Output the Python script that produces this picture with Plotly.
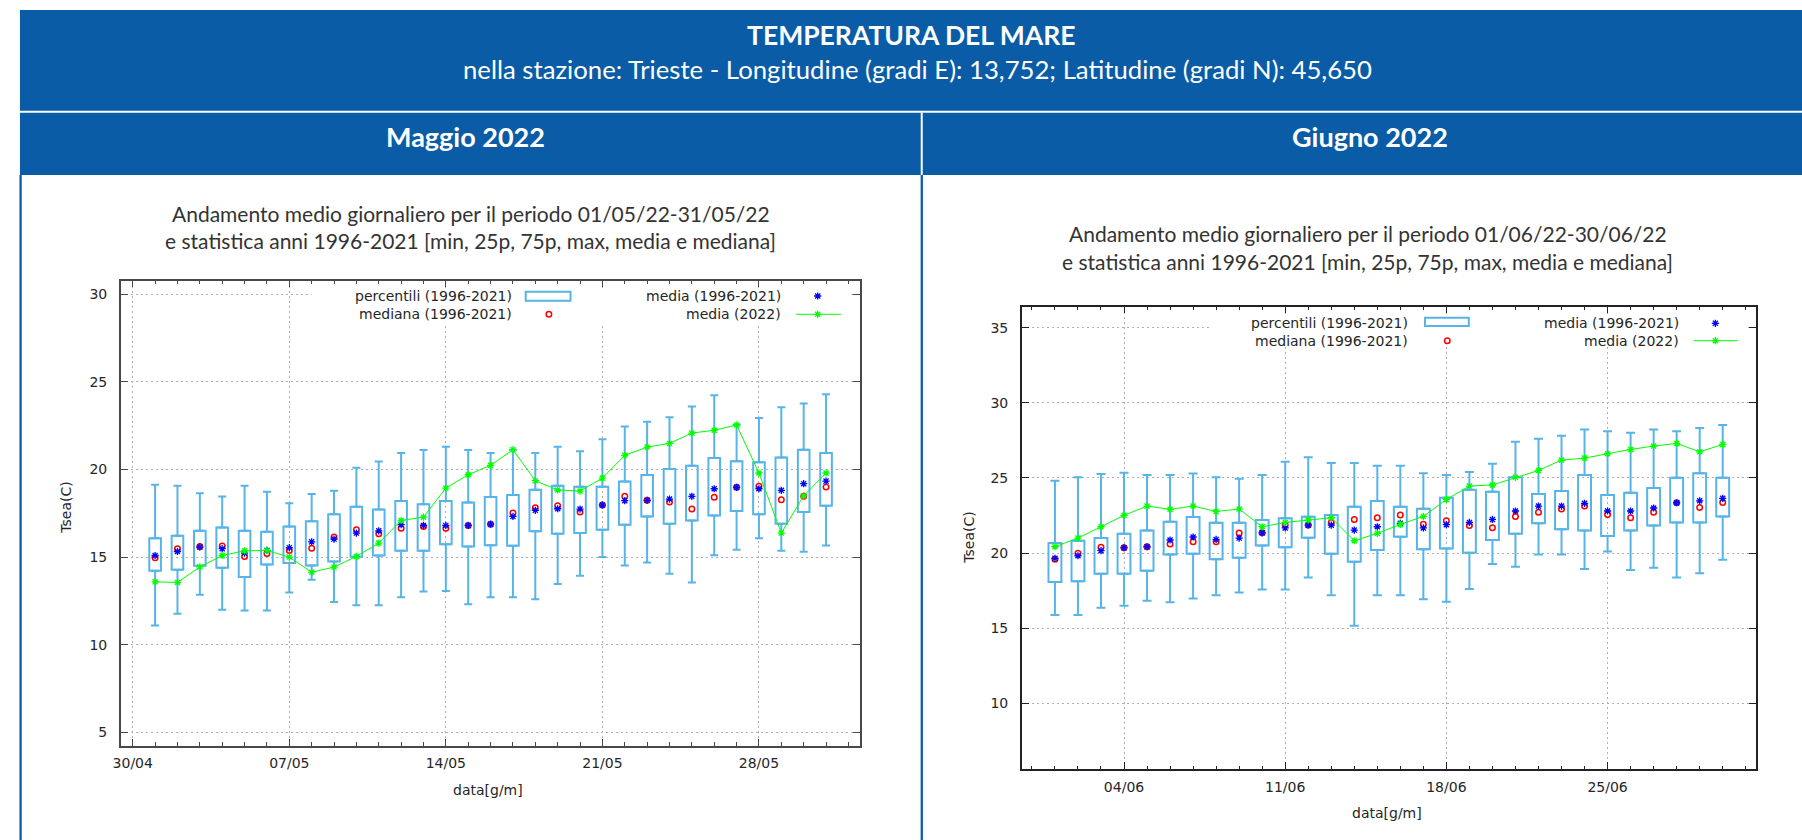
import plotly.graph_objects as go
import pandas as pd

W, H = 1802, 840

# ---------------- DATA ----------------
may_dates = [f"2022-05-{d:02d}" for d in range(1, 32)]
may_min = [11.09, 11.76, 12.85, 11.99, 11.95, 11.95, 12.98, 13.70, 12.43, 12.25, 12.25, 12.71, 13.04, 13.07, 12.31, 12.71,
           12.71, 12.60, 13.46, 13.93, 15.00, 14.52, 14.69, 14.05, 13.55, 15.11, 15.42, 16.08, 15.36, 15.30, 15.66]
may_q1 = [14.22, 14.28, 14.50, 14.39, 13.86, 14.58, 14.66, 14.52, 14.75, 15.02, 15.09, 15.36, 15.36, 15.74, 15.61, 15.68,
          15.65, 16.48, 16.33, 16.37, 16.56, 16.85, 17.32, 16.90, 17.09, 17.38, 17.63, 17.45, 16.90, 17.57, 17.93]
may_q3 = [16.08, 16.22, 16.50, 16.69, 16.50, 16.45, 16.75, 17.04, 17.45, 17.87, 17.72, 18.20, 18.01, 18.20, 18.12, 18.43,
          18.54, 18.85, 19.07, 19.02, 19.02, 19.32, 19.68, 20.03, 20.22, 20.66, 20.47, 20.41, 20.69, 21.13, 20.94]
may_max = [19.13, 19.07, 18.65, 18.46, 19.07, 18.73, 18.07, 18.60, 18.79, 20.10, 20.45, 20.94, 21.11, 21.30, 21.11, 20.94,
           21.13, 20.94, 21.30, 21.04, 21.72, 22.45, 22.73, 22.98, 23.59, 24.24, 22.55, 22.94, 23.55, 23.76, 24.29]
may_mean = [15.09, 15.32, 15.57, 15.48, 15.23, 15.38, 15.54, 15.87, 16.03, 16.37, 16.50, 16.85, 16.81, 16.81, 16.81, 16.88,
            17.32, 17.67, 17.76, 17.74, 17.97, 18.22, 18.24, 18.31, 18.47, 18.90, 18.98, 18.90, 18.81, 19.19, 19.34]
may_median = [14.96, 15.48, 15.60, 15.64, 15.04, 15.21, 15.37, 15.51, 16.14, 16.56, 16.33, 16.65, 16.75, 16.65, 16.81, 16.88,
              17.51, 17.82, 17.93, 17.57, 17.97, 18.47, 18.24, 18.14, 17.74, 18.41, 18.98, 19.04, 18.27, 18.47, 19.00]
may_2022 = [13.59, 13.55, 14.44, 15.09, 15.36, 15.38, 15.00, 14.14, 14.43, 15.04, 15.80, 17.09, 17.28, 18.94, 19.70, 20.24,
            21.13, 19.36, 18.83, 18.77, 19.51, 20.81, 21.28, 21.49, 22.08, 22.24, 22.54, 19.80, 16.37, 18.50, 19.80]

jun_dates = [f"2022-06-{d:02d}" for d in range(1, 31)]
jun_min = [15.88, 15.88, 16.36, 16.49, 16.83, 16.72, 16.98, 17.20, 17.38, 17.58, 17.58, 18.38, 17.20, 15.17, 17.20,
           17.20, 16.92, 16.76, 17.60, 19.27, 19.09, 19.91, 19.91, 18.94, 20.11, 18.87, 19.02, 18.38, 18.65, 19.56]
jun_q1 = [18.07, 18.12, 18.63, 18.63, 18.82, 19.91, 19.96, 19.58, 19.69, 20.51, 20.38, 21.02, 19.96, 19.42, 20.20,
          21.09, 20.25, 20.31, 20.02, 20.87, 21.29, 21.98, 21.58, 21.51, 21.13, 21.51, 21.84, 22.04, 22.04, 22.44]
jun_q3 = [20.67, 20.82, 21.00, 21.29, 21.51, 22.09, 22.40, 22.02, 22.02, 22.20, 22.31, 22.42, 22.53, 23.08, 23.46,
          23.08, 22.95, 23.68, 24.22, 24.08, 25.04, 23.93, 24.13, 25.19, 23.86, 24.02, 24.33, 25.01, 25.32, 25.01]
jun_max = [24.81, 25.04, 25.26, 25.35, 25.19, 25.19, 25.30, 25.04, 24.95, 25.19, 26.08, 26.37, 25.99, 25.99, 25.81,
           25.81, 25.32, 25.19, 25.39, 25.95, 27.41, 27.61, 27.81, 28.23, 28.10, 28.01, 28.23, 28.10, 28.32, 28.52]
jun_mean = [19.65, 19.82, 20.16, 20.36, 20.42, 20.87, 21.07, 20.91, 21.00, 21.35, 21.67, 21.86, 21.86, 21.53, 21.75,
            21.98, 21.67, 21.89, 22.04, 22.24, 22.80, 23.13, 23.13, 23.31, 22.80, 22.80, 23.00, 23.35, 23.48, 23.64]
jun_median = [19.58, 19.98, 20.38, 20.36, 20.42, 20.60, 20.76, 20.76, 21.33, 21.35, 21.86, 21.86, 22.04, 22.24, 22.35,
              22.53, 21.91, 22.15, 21.84, 21.69, 22.44, 22.71, 22.93, 23.13, 22.57, 22.35, 22.71, 23.35, 23.04, 23.37]
jun_2022 = [20.42, 21.00, 21.75, 22.51, 23.13, 22.91, 23.13, 22.77, 22.93, 21.75, 22.04, 22.20, 22.35, 20.82, 21.31,
            21.91, 22.44, 23.57, 24.46, 24.53, 25.04, 25.50, 26.19, 26.32, 26.61, 26.90, 27.12, 27.30, 26.74, 27.23]

legend_labels = ["percentili (1996-2021)", "mediana (1996-2021)", "media (1996-2021)", "media (2022)"]
page_title = "TEMPERATURA DEL MARE"
page_subtitle = "nella stazione: Trieste - Longitudine (gradi E): 13,752; Latitudine (gradi N): 45,650"
panel_titles = ["Maggio 2022", "Giugno 2022"]
chart_title1 = ["Andamento medio giornaliero per il periodo 01/05/22-31/05/22",
                "Andamento medio giornaliero per il periodo 01/06/22-30/06/22"]
chart_title2 = "e statistica anni 1996-2021 [min, 25p, 75p, max, media e mediana]"

# ---------------- STYLE ----------------
HDR = "#0a5ca6"
BOX = "#56b4e9"
GRID = "#b0b0b0"
TXT = "#262626"
CFONT = "DejaVu Sans"
HFONT = "Lato"
CSIZE = 14
DAY = 86400000
STAR = 6
CIRC = 5.5


def X(p):
    return p / W


def Y(p):
    return 1 - p / H


fig = go.Figure()


def add_panel(dates, mn, q1, q3, mx, mean, med, y22, xa, ya, cap, bw):
    n = len(dates)
    common = dict(xaxis=xa, yaxis=ya, showlegend=False, hoverinfo="skip")
    fig.add_trace(go.Bar(x=dates, base=q1, y=[b - a for a, b in zip(q1, q3)], width=bw * DAY,
                         marker=dict(color="rgba(0,0,0,0)", line=dict(color=BOX, width=2)), **common))
    inv = dict(size=1, color="rgba(0,0,0,0)")
    fig.add_trace(go.Scatter(x=dates, y=q3, mode="markers", marker=inv,
                             error_y=dict(type="data", symmetric=False, array=[b - a for a, b in zip(q3, mx)],
                                          arrayminus=[0] * n, color=BOX, thickness=2, width=cap), **common))
    fig.add_trace(go.Scatter(x=dates, y=q1, mode="markers", marker=inv,
                             error_y=dict(type="data", symmetric=False, array=[0] * n,
                                          arrayminus=[a - b for a, b in zip(q1, mn)], color=BOX, thickness=2,
                                          width=cap), **common))
    fig.add_trace(go.Scatter(x=dates, y=med, mode="markers",
                             marker=dict(symbol="circle-open", size=CIRC, color="#ff0000", line=dict(width=1.5)),
                             **common))
    fig.add_trace(go.Scatter(x=dates, y=mean, mode="markers",
                             marker=dict(symbol="asterisk-open", size=STAR, color="#0000ff", line=dict(width=1.3)),
                             **common))
    fig.add_trace(go.Scatter(x=dates, y=y22, mode="lines+markers", line=dict(color="#00ff00", width=1),
                             marker=dict(symbol="asterisk-open", size=STAR, color="#00ff00", line=dict(width=1.3)),
                             **common))


add_panel(may_dates, may_min, may_q1, may_q3, may_max, may_mean, may_median, may_2022, "x", "y", 4, 0.52)
add_panel(jun_dates, jun_min, jun_q1, jun_q3, jun_max, jun_mean, jun_median, jun_2022, "x2", "y2", 4.5, 0.56)


def tday(base, d):
    return (pd.Timestamp(base) + pd.Timedelta(days=d)).strftime("%Y-%m-%d %H:%M:%S")


def xaxis_def(dom, rng, tick0, anchor, ax_col):
    return dict(domain=dom, anchor=anchor, type="date", range=rng, tick0=tick0, dtick=7 * DAY,
                tickformat="%d/%m", ticks="inside", ticklen=7, tickwidth=1, tickcolor=ax_col,
                showline=True, linecolor=ax_col, linewidth=1.5, mirror="ticks",
                showgrid=True, gridcolor=GRID, griddash="2px,3px", gridwidth=1, zeroline=False,
                minor=dict(dtick=DAY, tick0=tick0, ticks="inside", ticklen=3.5, tickwidth=1, tickcolor=ax_col,
                           showgrid=False),
                tickfont=dict(family=CFONT, size=CSIZE, color=TXT), ticklabelstandoff=4, fixedrange=True)


def yaxis_def(dom, rng, anchor, ax_col):
    return dict(domain=dom, anchor=anchor, range=rng, tick0=0, dtick=5, ticks="inside", ticklen=7, tickwidth=1,
                tickcolor=ax_col, showline=True, linecolor=ax_col, linewidth=1.5, mirror="ticks",
                showgrid=True, gridcolor=GRID, griddash="2px,3px", gridwidth=1, zeroline=False,
                tickfont=dict(family=CFONT, size=CSIZE, color=TXT), ticklabelstandoff=9, fixedrange=True)


AX1 = "#484848"
AX2 = "#222222"
layout_axes = dict(
    xaxis=xaxis_def([X(113.3), X(855.3)], [tday("2022-04-30", -0.534), tday("2022-04-30", 32.496)],
                    "2022-04-30", "y", AX1),
    yaxis=yaxis_def([Y(745.7), Y(280.7)], [4.235, 30.776], "x", AX1),
    xaxis2=xaxis_def([X(1018.3), X(1756)], [tday("2022-05-31", -0.44), tday("2022-05-31", 31.455)],
                     "2022-06-04", "y2", AX2),
    yaxis2=yaxis_def([Y(769), Y(306.7)], [5.627, 36.398], "x2", AX2),
)

shapes = []
# header banners
shapes.append(dict(type="rect", xref="paper", yref="paper", x0=X(12), x1=X(1802), y0=Y(110.7), y1=Y(10),
                   fillcolor=HDR, line_width=0, layer="below"))
shapes.append(dict(type="rect", xref="paper", yref="paper", x0=X(12), x1=X(1802), y0=Y(175), y1=Y(112.7),
                   fillcolor=HDR, line_width=0, layer="below"))
shapes.append(dict(type="rect", xref="paper", yref="paper", x0=X(916.8), x1=X(918.8), y0=Y(175), y1=Y(112.7),
                   fillcolor="white", line_width=0, layer="below"))
# panel borders
for x0, x1 in [(11.5, 13.8), (916.7, 919.0)]:
    shapes.append(dict(type="rect", xref="paper", yref="paper", x0=X(x0), x1=X(x1), y0=0, y1=Y(175),
                       fillcolor=HDR, line_width=0, layer="below"))

# opaque key backgrounds (leave the frame ticks visible)
# (left, top, right, bottom) in pixels
key_bg = [(305, 289, 847, 323), (1208, 315, 1748, 345)]
for (l, t, r, b) in key_bg:
    shapes.append(dict(type="rect", xref="paper", yref="paper", x0=X(l), x1=X(r), y0=Y(b), y1=Y(t),
                       fillcolor="white", line_width=0, layer="above"))


def star_path(cx, cy, size):
    r = size / 2.0
    rc, rs = r * 1.2, r * 0.85
    segs = [((0, -rc), (0, rc)), ((-rc, 0), (rc, 0)), ((-rs, -rs), (rs, rs)), ((-rs, rs), (rs, -rs))]
    p = ""
    for (a, b) in segs:
        p += f"M{X(cx + a[0]):.6f},{Y(cy + a[1]):.6f}L{X(cx + b[0]):.6f},{Y(cy + b[1]):.6f}"
    return p


keys = [
    # text_x1, text_x2, row1, row2, box x0,x1,y0,y1, circle x, star x, line x0,x1
    (508, 778.3, 296, 314.3, 520, 565, 291.7, 300.7, 543.3, 813.3, 791.7, 836.7),
    (1408, 1680, 323.3, 340.7, 1423.3, 1467.3, 317.7, 326, 1445.7, 1715, 1693.3, 1737.3),
]
annotations = []
for (tx1, tx2, r1, r2, bx0, bx1, by0, by1, cx, sx, lx0, lx1) in keys:
    shapes.append(dict(type="rect", xref="paper", yref="paper", x0=X(bx0), x1=X(bx1), y0=Y(by1), y1=Y(by0),
                       line=dict(color=BOX, width=2), fillcolor="rgba(0,0,0,0)", layer="above"))
    shapes.append(dict(type="line", xref="paper", yref="paper", x0=X(lx0), x1=X(lx1), y0=Y(r2), y1=Y(r2),
                       line=dict(color="#00ff00", width=1), layer="above"))
    rr = CIRC / 2.0
    shapes.append(dict(type="circle", xref="paper", yref="paper", x0=X(cx - rr), x1=X(cx + rr),
                       y0=Y(r2 + rr), y1=Y(r2 - rr), line=dict(color="#ff0000", width=1.5), layer="above"))
    shapes.append(dict(type="path", xref="paper", yref="paper", path=star_path(sx, r1, STAR),
                       line=dict(color="#0000ff", width=1.3), layer="above"))
    shapes.append(dict(type="path", xref="paper", yref="paper", path=star_path(sx, r2, STAR),
                       line=dict(color="#00ff00", width=1.3), layer="above"))
    for txt, xx, yy in [(legend_labels[0], tx1, r1), (legend_labels[1], tx1, r2),
                        (legend_labels[2], tx2, r1), (legend_labels[3], tx2, r2)]:
        annotations.append(dict(text=txt, x=X(xx), y=Y(yy), xref="paper", yref="paper", xanchor="right",
                                yanchor="middle", showarrow=False,
                                font=dict(family=CFONT, size=CSIZE, color=TXT)))


def ann(text, x, y, size, family=HFONT, color="white", angle=0):
    annotations.append(dict(text=text, x=X(x), y=Y(y), xref="paper", yref="paper", xanchor="center",
                            yanchor="middle", showarrow=False, textangle=angle,
                            font=dict(family=family, size=size, color=color)))


ann("<b>" + page_title + "</b>", 908, 35, 26.5)
ann(page_subtitle, 914, 69, 25.7)
ann("<b>" + panel_titles[0] + "</b>", 460, 137, 27)
ann("<b>" + panel_titles[1] + "</b>", 1368, 137, 27)
ann(chart_title1[0], 465, 213, 21, color="#333333")
ann(chart_title2, 465, 241, 21, color="#333333")
ann(chart_title1[1], 1366, 233, 21, color="#333333")
ann(chart_title2, 1366, 261, 21, color="#333333")
ann("Tsea(C)", 58, 508, CSIZE, family=CFONT, color=TXT, angle=-90)
ann("Tsea(C)", 965, 538, CSIZE, family=CFONT, color=TXT, angle=-90)
ann("data[g/m]", 482, 790, CSIZE, family=CFONT, color=TXT)
ann("data[g/m]", 1385, 813, CSIZE, family=CFONT, color=TXT)

fig.update_layout(width=W, height=H, margin=dict(l=0, r=0, t=0, b=0), paper_bgcolor="white",
                  plot_bgcolor="rgba(0,0,0,0)", showlegend=False, shapes=shapes, annotations=annotations,
                  barmode="overlay", **layout_axes)

fig.write_html("out.html", config={"displayModeBar": False},
               post_script="document.body.style.margin='0px';document.body.style.overflow='hidden';")
